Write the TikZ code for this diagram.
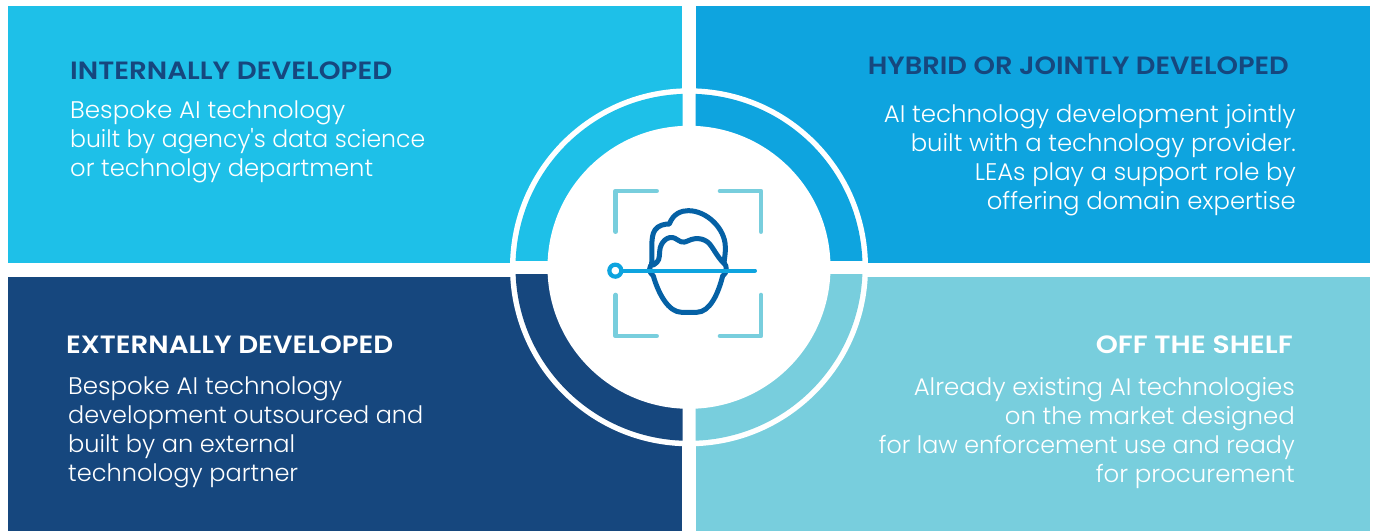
\documentclass[tikz,border=0pt]{standalone}
\usepackage{fontspec}
\usepackage{graphicx}
\newfontfamily\bodyfont{Poppins}[UprightFont=* Light]
\newfontfamily\headfont{Poppins}[UprightFont=* SemiBold]
\newcommand\fitw[2]{\resizebox{#1pt}{\height}{#2}}
\definecolor{cUL}{HTML}{1EC0E8}
\definecolor{cUR}{HTML}{0EA4DF}
\definecolor{cLL}{HTML}{16477E}
\definecolor{cLR}{HTML}{78CEDD}
\definecolor{cFace}{HTML}{0561A5}
\tikzset{
  head/.style={inner sep=0pt,font=\headfont\fontsize{25}{29}\selectfont},
  body/.style={inner sep=0pt,text=white,font=\bodyfont\fontsize{24}{29}\selectfont},
  bracket/.style={draw=cLR,line width=4.6pt,line cap=round,line join=round},
  facepath/.style={draw=cFace,line width=5pt,line cap=round,line join=round},
}
\begin{document}
\begin{tikzpicture}[x=1pt,y=1pt]
\useasboundingbox (0,0) rectangle (1375,531);
\fill[white] (0,0) rectangle (1375,531);
% panels
\fill[cUL] (8,268) rectangle (682,525);
\fill[cUR] (696,268) rectangle (1370,525);
\fill[cLL] (8,0) rectangle (682,254);
\fill[cLR] (696,0) rectangle (1370,254);
% ring
\fill[white] (689,263.7) circle[radius=179];
\begin{scope}\clip (0,270.7) rectangle (682.5,531);
\fill[cUL] (689,263.7) circle[radius=173.5];\end{scope}
\begin{scope}\clip (695.7,270.7) rectangle (1375,531);
\fill[cUR] (689,263.7) circle[radius=173.5];\end{scope}
\begin{scope}\clip (0,0) rectangle (682.5,256.7);
\fill[cLL] (689,263.7) circle[radius=173.5];\end{scope}
\begin{scope}\clip (695.7,0) rectangle (1375,256.7);
\fill[cLR] (689,263.7) circle[radius=173.5];\end{scope}
\fill[white] (689,263.7) circle[radius=141.5];
% icon
\begin{scope}[x=0.3333pt,y=-0.3333pt,shift={(600pt,351pt)}]
\draw[bracket] (47,155) -- (47,33) -- (170,33);
\draw[bracket] (360,33) -- (483,33) -- (483,155);
\draw[bracket] (47,345) -- (47,468) -- (170,468);
\draw[bracket] (360,468) -- (483,468) -- (483,345);
\draw[facepath] (155,250) .. controls (158,220) and (150,170) .. (165,150)
  .. controls (175,135) and (195,132) .. (208,132)
  .. controls (220,100) and (245,92) .. (265,92)
  .. controls (320,92) and (375,145) .. (376,200)
  .. controls (377,220) and (373,235) .. (372,250);
\draw[facepath] (160,255) .. controls (178,245) and (178,235) .. (179,215)
  .. controls (180,185) and (205,165) .. (225,175)
  .. controls (240,183) and (245,192) .. (265,182)
  .. controls (290,170) and (320,175) .. (335,200)
  .. controls (345,215) and (360,240) .. (372,250);
\draw[facepath] (160,248) .. controls (145,260) and (145,275) .. (160,288)
  .. controls (175,340) and (205,397) .. (245,397)
  -- (290,397) .. controls (330,397) and (355,340) .. (368,288)
  .. controls (382,278) and (382,260) .. (372,248);
\draw[draw=cUR,line width=4pt,line cap=round] (70,272) -- (465,272);
\draw[draw=cUR,line width=4.2pt] (46,272) circle[radius=18];
\end{scope}
% texts
\node[head,text=cLL,anchor=base west] (t1) at (70,451) {\fitw{322}{INTERNALLY DEVELOPED}};
\node[body,anchor=north west,align=left] (b1) at (70,430.5) {\fitw{275}{Bespoke AI technology}\\\fitw{355}{built by agency's data science}\\\fitw{303}{or technolgy department}};
\node[head,text=cLL,anchor=base east] (t2) at (1289,456) {\fitw{421}{HYBRID OR JOINTLY DEVELOPED}};
\node[body,anchor=north east,align=right] (b2) at (1296,426.5) {\fitw{412}{AI technology development jointly}\\\fitw{385}{built with a technology provider.}\\\fitw{321}{LEAs play a support role by}\\\fitw{309}{offering domain expertise}};
\node[head,text=white,anchor=base west] (t3) at (66,178) {\fitw{327}{EXTERNALLY DEVELOPED}};
\node[body,anchor=north west,align=left] (b3) at (68,154) {\fitw{274}{Bespoke AI technology}\\\fitw{355}{development outsourced and}\\\fitw{227}{built by an external}\\\fitw{230}{technology partner}};
\node[head,text=white,anchor=base east] (t4) at (1293,178) {\fitw{197}{OFF THE SHELF}};
\node[body,anchor=north east,align=right] (b4) at (1295,154) {\fitw{381}{Already existing AI technologies}\\\fitw{290}{on the market designed}\\\fitw{416}{for law enforcement use and ready}\\\fitw{199}{for procurement}};
\end{tikzpicture}
\end{document}
